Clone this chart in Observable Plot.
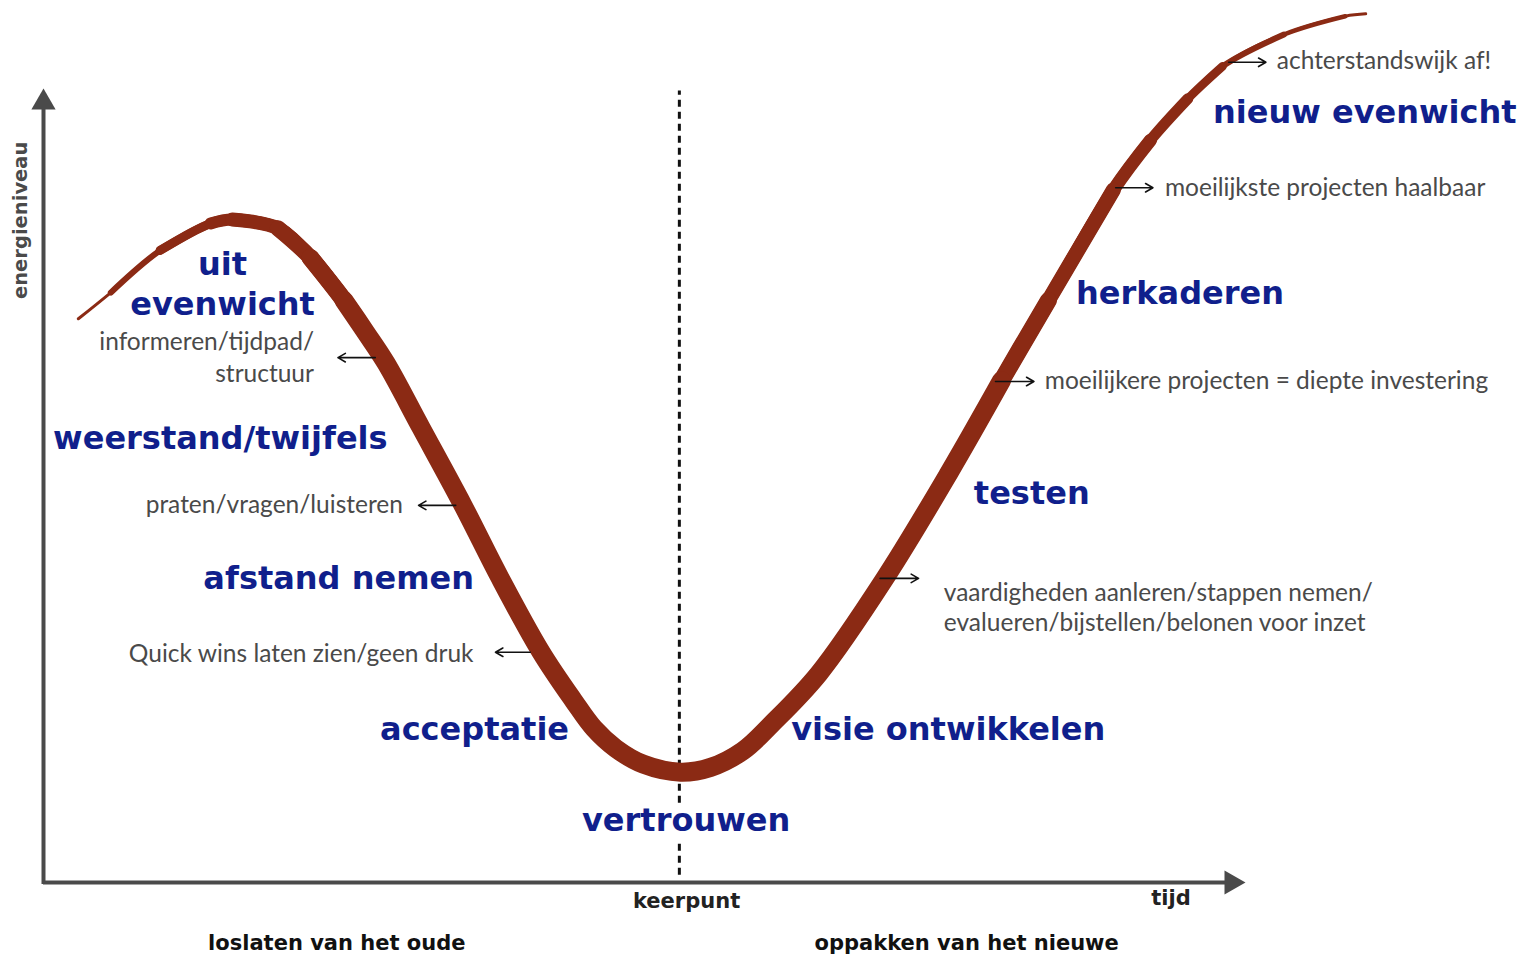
<!DOCTYPE html>
<html><head><meta charset="utf-8">
<script src="https://cdn.jsdelivr.net/npm/d3@7"></script>
<script src="https://cdn.jsdelivr.net/npm/@observablehq/plot@0.6"></script>
<style>html,body{margin:0;padding:0;background:#fff;} #chart svg{display:block;}</style>
</head><body><div id="chart"></div>
<script>
// Change curve: time (0–100) vs energy level (0–100)
const curveTime = [2.9,5.6,9.7,13.9,15.7,19.5,22.2,25.0,26.8,28.5,31.4,34.9,38.0,41.4,44.1,45.8,47.6,49.9,53.0,55.5,58.2,60.6,64.5,70.0,75.3,79.7,83.6,89.0,92.1,95.2,98.1,103.2,108.3,110.0];
const curveEnergy = [71.0,74.3,79.6,83.0,83.5,82.4,78.7,73.3,69.3,65.4,57.3,47.5,38.3,29.0,22.9,19.4,16.9,14.9,13.9,14.5,16.6,20.0,26.3,38.3,51.5,63.2,73.3,87.2,93.5,98.7,102.8,106.8,109.1,109.4];

// Phase labels (blue)
const phaseNames = ["uit","evenwicht","weerstand/twijfels","afstand nemen","acceptatie","vertrouwen","visie ontwikkelen","testen","herkaderen","nieuw evenwicht"];
const phaseTime = [14.9,14.9,0.8,13.3,28.0,44.8,62.2,77.4,85.9,97.3];
const phaseEnergy = [77.8,72.8,55.9,38.3,19.3,7.8,19.3,49.0,74.1,96.9];

// Action notes (gray)
const noteTexts = ["informeren/tijdpad/","structuur","praten/vragen/luisteren","Quick wins laten zien/geen druk","vaardigheden aanleren/stappen nemen/","evalueren/bijstellen/belonen voor inzet","moeilijkere projecten = diepte investering","moeilijkste projecten haalbaar","achterstandswijk af!"];
const noteTime = [22.5,22.5,8.5,7.1,74.9,74.9,83.3,93.3,102.6];
const noteEnergy = [68.0,64.0,47.5,28.8,36.5,32.7,63.1,87.5,103.4];
const noteSide = ["end","end","start","start","start","start","start","start","start"];

// Small pointer arrows
const pointerFrom = [27.6,34.3,40.5,69.6,79.2,89.2,98.6];
const pointerTo = [24.5,31.2,37.6,72.8,82.4,92.3,101.7];
const pointerEnergy = [66.1,47.5,29.0,38.3,63.1,87.5,103.3];

// Turning point and axis texts
const keerpuntTime = 52.9;
const bottomTexts = ["keerpunt","tijd"];
const bottomTime = [53.5,93.8];
const bottomEnergy = [-2.4,-2.0];
const phaseGroupTexts = ["loslaten van het oude","oppakken van het nieuwe"];
const phaseGroupTime = [24.4,76.8];
const phaseGroupEnergy = [-7.6,-7.6];
const yTitle = "energieniveau";

const curve = curveTime.map((t, i) => ({t, e: curveEnergy[i]}));
const phases = phaseNames.map((n, i) => ({n, t: phaseTime[i], e: phaseEnergy[i]}));
const notes = noteTexts.map((n, i) => ({n, t: noteTime[i], e: noteEnergy[i], a: noteSide[i]}));
const pointers = pointerFrom.map((f, i) => ({f, to: pointerTo[i], e: pointerEnergy[i]}));

const brown = "#8b2a14";
const blue = "#101f8c";
const gray = "#4a4a4a";
const axisCol = "#4a4a4a";

// stroke taper (style): thin brush start on the left, fading brush end on the right
const fullWidth = 19;
const taperStart = [3, 6, 9, 12, 14, 16, 17.5];
const taperEnd = [17, 15, 13, 11, 8.5, 6, 4.5, 3];
const strokeW = curve.map((d, i) => {
  if (i < taperStart.length) return taperStart[i];
  const k = i - (curve.length - taperEnd.length);
  return k >= 0 ? taperEnd[k] : fullWidth;
});
const widthLevels = Array.from(new Set(strokeW)).sort((a, b) => a - b);
const layers = widthLevels.map(v => {
  const idx = strokeW.map((w, i) => w >= v ? i : -1).filter(i => i >= 0);
  return [idx[0], idx[idx.length - 1], v];
});

const blueStyle = {x: "t", y: "e", text: "n", fill: blue, fontFamily: "DejaVu Sans", fontWeight: "bold", fontSize: 32, lineAnchor: "middle"};
const boldDark = {x: "t", y: "e", text: "n", fontFamily: "DejaVu Sans", fontWeight: "bold", fontSize: 21, textAnchor: "middle", lineAnchor: "middle"};

const plot = Plot.plot({
  width: 1521,
  height: 954,
  x: {domain: [0, 100], range: [43, 1245], axis: null},
  y: {domain: [0, 100], range: [882, 88], axis: null},
  style: {background: "#fff", overflow: "visible"},
  marks: [
    // keerpunt dashed line
    Plot.ruleX([keerpuntTime], {y1: 0.9, y2: 99.7, stroke: "#111", strokeWidth: 3, strokeDasharray: "7,5"}),
    // axes
    Plot.ruleY([0], {x1: 0, x2: 98.9, stroke: axisCol, strokeWidth: 4}),
    Plot.ruleX([0], {y1: -0.25, y2: 98.5, stroke: axisCol, strokeWidth: 4}),
    Plot.dot([{t: 100, e: 0}], {x: "t", y: "e", symbol: "triangle", r: 9, rotate: 90, fill: axisCol, stroke: null, dx: -14}),
    Plot.dot([{t: 0, e: 100}], {x: "t", y: "e", symbol: "triangle", r: 9, rotate: 0, fill: axisCol, stroke: null, dy: 14}),
    // curve (tapered ends)
    ...layers.map(([a, b, w]) => Plot.line(curve.slice(a, b + 1), {x: "t", y: "e", curve: "catmull-rom", stroke: brown, strokeWidth: w, strokeLinecap: "round", strokeLinejoin: "round"})),
    // pointers
    Plot.arrow(pointers, {x1: "f", x2: "to", y1: "e", y2: "e", stroke: "#111", strokeWidth: 1.6, headLength: 8, bend: false}),
    // phase labels
    Plot.text(phases.filter(d => d.n === "uit" || d.n === "evenwicht"), {...blueStyle, textAnchor: "middle"}),
    Plot.text(phases.filter(d => d.n === "vertrouwen"), {...blueStyle, textAnchor: "start", stroke: "white", strokeWidth: 18}),
    Plot.text(phases.filter(d => !["uit","evenwicht","vertrouwen"].includes(d.n)), {...blueStyle, textAnchor: "start"}),
    // notes
    Plot.text(notes.filter(d => d.a === "end"), {x: "t", y: "e", text: "n", fill: gray, fontFamily: "Lato", fontSize: 24.5, textAnchor: "end", lineAnchor: "middle"}),
    Plot.text(notes.filter(d => d.a === "start"), {x: "t", y: "e", text: "n", fill: gray, fontFamily: "Lato", fontSize: 24.5, textAnchor: "start", lineAnchor: "middle"}),
    // bottom texts
    Plot.text(bottomTexts.map((n, i) => ({n, t: bottomTime[i], e: bottomEnergy[i]})), {...boldDark, fill: "#222"}),
    Plot.text(phaseGroupTexts.map((n, i) => ({n, t: phaseGroupTime[i], e: phaseGroupEnergy[i]})), {...boldDark, fill: "#111"}),
    Plot.text([{n: yTitle, t: -1.9, e: 83.4}], {x: "t", y: "e", text: "n", fill: gray, fontFamily: "DejaVu Sans", fontWeight: "bold", fontSize: 19.5, rotate: -90, textAnchor: "middle", lineAnchor: "middle"})
  ]
});
document.getElementById("chart").appendChild(plot);
</script>
</body></html>
